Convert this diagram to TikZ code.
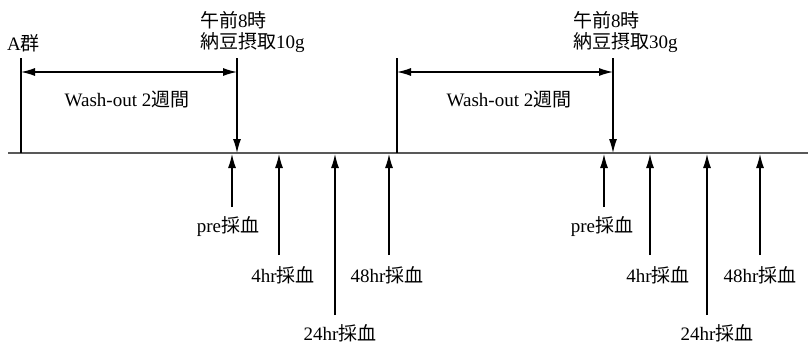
\documentclass[tikz,border=0pt]{standalone}
\usepackage{fontspec}
\setmainfont{Liberation Serif}
\newfontfamily\cjk{Noto Sans CJK JP}[Scale=1.0]
\usetikzlibrary{arrows.meta}
\begin{document}
\begin{tikzpicture}[x=1pt,y=-1pt,
  lbl/.style={inner sep=0pt,font=\fontsize{19}{21}\selectfont},
  ln/.style={line width=1.2pt,black},
  arr/.style={ln,-{Latex[length=14pt,width=8pt]}},
  darr/.style={ln,{Latex[length=14pt,width=8pt]}-{Latex[length=14pt,width=8pt]}},
  tl/.style={line width=2pt,black!65}]
\useasboundingbox (0,0) rectangle (808,343);
% timeline
\coordinate (t0) at (8,153);
\coordinate (t1) at (808,153);
\draw[tl] (t0) -- (t1);
% group A start
\node[lbl,anchor=west] (A) at (7,43) {A{\cjk 群}};
\coordinate (s1top) at (21,58);
\coordinate (s1bot) at (21,153);
\draw[ln] (s1top) -- (s1bot);
% intake 1
\node[lbl,anchor=west,align=left] (i1) at (200,32) {{\cjk 午前}8{\cjk 時}\\{\cjk 納豆摂取}10g};
\coordinate (d1top) at (237,58);
\coordinate (d1bot) at (237,153);
\draw[arr] (d1top) -- (d1bot);
\coordinate (w1a) at (21,72);
\coordinate (w1b) at (237,72);
\draw[darr] (w1a) -- (w1b);
\node[lbl] (w1) at (127,100) {Wash-out 2{\cjk 週間}};
% second start
\coordinate (s2top) at (397,58);
\coordinate (s2bot) at (397,153);
\draw[ln] (s2top) -- (s2bot);
% intake 2
\node[lbl,anchor=west,align=left] (i2) at (573,32) {{\cjk 午前}8{\cjk 時}\\{\cjk 納豆摂取}30g};
\coordinate (d2top) at (613,58);
\coordinate (d2bot) at (613,153);
\draw[arr] (d2top) -- (d2bot);
\coordinate (w2a) at (397,72);
\coordinate (w2b) at (613,72);
\draw[darr] (w2a) -- (w2b);
\node[lbl] (w2) at (509,100) {Wash-out 2{\cjk 週間}};
% blood sampling group 1
\node[lbl] (p1) at (228,227) {pre{\cjk 採血}};
\node[lbl] (h4a) at (283,275) {4hr{\cjk 採血}};
\node[lbl] (h24a) at (340,333) {24hr{\cjk 採血}};
\node[lbl] (h48a) at (387,275) {48hr{\cjk 採血}};
\coordinate (p1b) at (232,207);   \coordinate (p1t) at (232,154);
\coordinate (h4ab) at (279,255);  \coordinate (h4at) at (279,154);
\coordinate (h24ab) at (335,315); \coordinate (h24at) at (335,154);
\coordinate (h48ab) at (389,255); \coordinate (h48at) at (389,154);
\draw[arr] (p1b) -- (p1t);
\draw[arr] (h4ab) -- (h4at);
\draw[arr] (h24ab) -- (h24at);
\draw[arr] (h48ab) -- (h48at);
% blood sampling group 2
\node[lbl] (p2) at (602,227) {pre{\cjk 採血}};
\node[lbl] (h4b) at (658,275) {4hr{\cjk 採血}};
\node[lbl] (h24b) at (717,333) {24hr{\cjk 採血}};
\node[lbl] (h48b) at (760,275) {48hr{\cjk 採血}};
\coordinate (p2b) at (604,207);   \coordinate (p2t) at (604,154);
\coordinate (h4bb) at (650,255);  \coordinate (h4bt) at (650,154);
\coordinate (h24bb) at (707,315); \coordinate (h24bt) at (707,154);
\coordinate (h48bb) at (760,255); \coordinate (h48bt) at (760,154);
\draw[arr] (p2b) -- (p2t);
\draw[arr] (h4bb) -- (h4bt);
\draw[arr] (h24bb) -- (h24bt);
\draw[arr] (h48bb) -- (h48bt);
\end{tikzpicture}
\end{document}
